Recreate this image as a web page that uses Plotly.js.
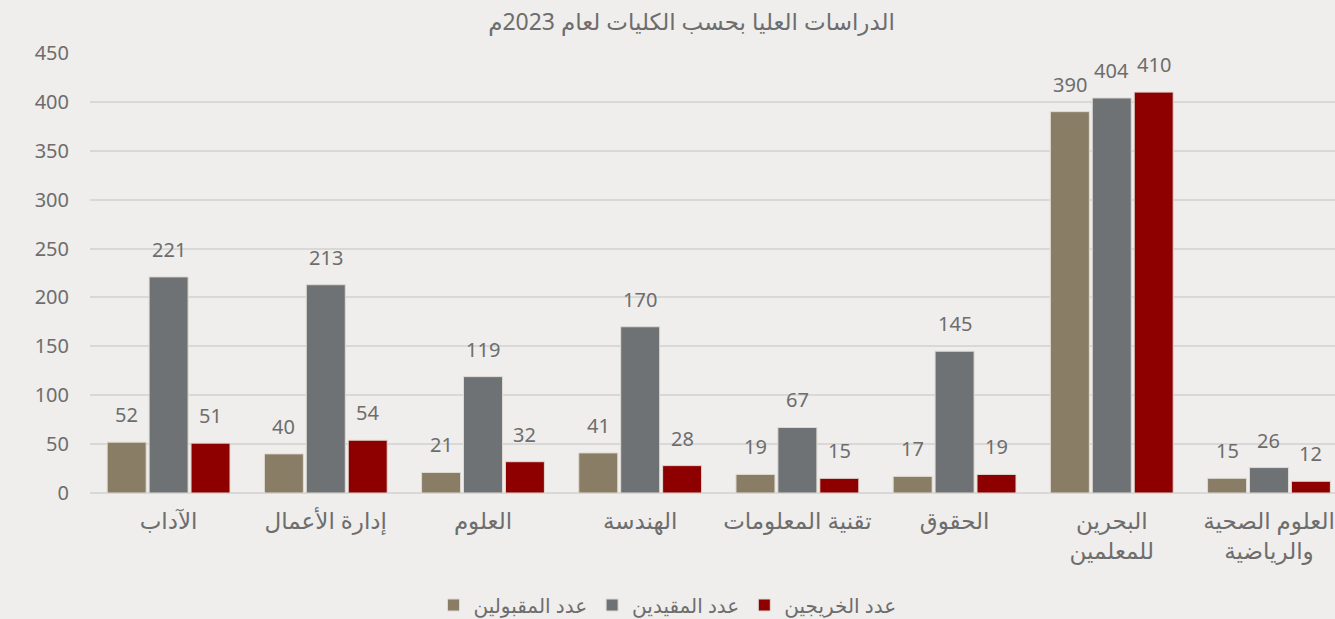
<!DOCTYPE html>
<html>
<head>
<meta charset="utf-8">
<script src="https://cdn.plot.ly/plotly-3.0.1.min.js"></script>
<style>
html,body{margin:0;padding:0;background:#efeeec;overflow:hidden;}
#chart{width:1335px;height:619px;}
</style>
</head>
<body>
<div id="chart"></div>
<script>
const categories = ["الآداب", "إدارة الأعمال", "العلوم", "الهندسة", "تقنية المعلومات", "الحقوق", "البحرين<br>للمعلمين", "العلوم الصحية<br>والرياضية"];
const seriesNames = ["عدد المقبولين", "عدد المقيدين", "عدد الخريجين"];
const admitted = [52, 40, 21, 41, 19, 17, 390, 15];
const enrolled = [221, 213, 119, 170, 67, 145, 404, 26];
const graduates = [51, 54, 32, 28, 15, 19, 410, 12];
const yTicks = [0, 50, 100, 150, 200, 250, 300, 350, 400, 450];
const titleText = "الدراسات العليا بحسب الكليات لعام 2023م";

const colors = ["#8a7d66", "#6e7275", "#8e0000"];
const allSeries = [admitted, enrolled, graduates];
const fontFam = "'Noto Sans', 'DejaVu Sans', 'Liberation Sans', sans-serif";
const textColor = "#6d6d6d";
const bargap = 0.2;

const traces = allSeries.map((vals, i) => ({
  type: "bar",
  name: seriesNames[i],
  x: categories,
  y: vals,
  marker: {color: colors[i], line: {color: "#dedad3", width: 1}},
  hoverinfo: "y+name"
}));

const slot = (1 - bargap) / 3;
const annotations = [];
allSeries.forEach((vals, i) => {
  vals.forEach((v, j) => {
    annotations.push({
      x: j + (i - 1) * slot,
      y: v,
      xref: "x",
      yref: "y",
      text: String(v),
      showarrow: false,
      yanchor: "bottom",
      yshift: 12,
      font: {family: fontFam, size: 20, color: textColor}
    });
  });
});

const layout = {
  width: 1335,
  height: 619,
  paper_bgcolor: "#efeeec",
  plot_bgcolor: "#efeeec",
  margin: {l: 90, r: 0, t: 53, b: 126},
  title: {
    text: titleText,
    font: {family: fontFam, size: 23, color: textColor},
    x: 0.518, xanchor: "center",
    y: 1 - 22 / 619, yanchor: "middle", yref: "container"
  },
  barmode: "group",
  bargap: bargap,
  bargroupgap: 0.07,
  xaxis: {
    type: "category",
    range: [-0.5, 7.42],
    showgrid: false,
    showline: false,
    zeroline: false,
    ticks: "",
    ticklabelstandoff: 12,
    tickfont: {family: fontFam, size: 23, color: textColor},
    fixedrange: true
  },
  yaxis: {
    range: [0, 450],
    tickvals: yTicks,
    ticktext: yTicks.map(String),
    showgrid: true,
    gridcolor: "#d9d8d6",
    gridwidth: 2,
    zeroline: true,
    zerolinecolor: "#d9d8d6",
    zerolinewidth: 2,
    showline: false,
    ticks: "",
    ticklabelstandoff: 20,
    tickfont: {family: fontFam, size: 20, color: textColor},
    fixedrange: true
  },
  showlegend: true,
  legend: {
    orientation: "h",
    xref: "container", yref: "container",
    x: 0.5, xanchor: "center",
    y: 14 / 619, yanchor: "middle",
    font: {family: fontFam, size: 20, color: textColor},
    bgcolor: "rgba(0,0,0,0)"
  },
  annotations: annotations
};

Plotly.newPlot("chart", traces, layout, {displayModeBar: false, responsive: false});
</script>
</body>
</html>
